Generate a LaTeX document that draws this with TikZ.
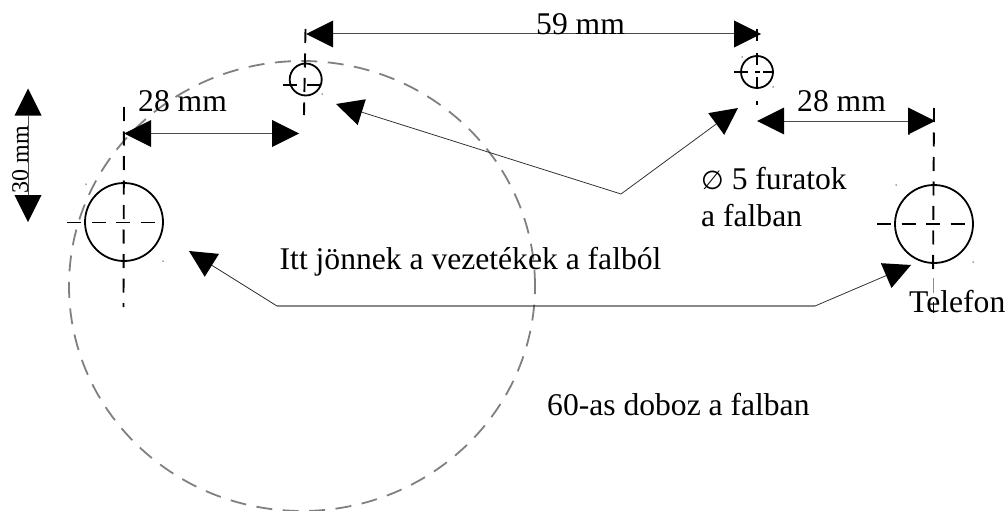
\documentclass[tikz,border=0pt]{standalone}
\usepackage{fontspec}
\setmainfont{Liberation Serif}
\newfontfamily\symbfont{DejaVu Sans}
\usetikzlibrary{arrows.meta,shapes.geometric}
\tikzset{
  dimtip/.tip={Triangle[length=27pt,width=27pt,sep=0pt,color=black,fill=black,line width=0pt]},
  hole/.style={circle,draw=black,line width=1.8pt,inner sep=0pt,fill=none},
  bighole/.style={hole,minimum size=78pt},
  smallhole/.style={hole,minimum size=32pt},
  centre/.style={draw=black,line width=1.9pt,dash pattern=on 14pt off 10.5pt},
  boxoutline/.style={ellipse,draw=black!50,line width=1.8pt,dash pattern=on 16pt off 10.5pt,inner sep=0pt,minimum width=466pt,minimum height=450pt},
  dimline/.style={draw=black!70,line width=1pt,{dimtip}-{dimtip}},
  leader/.style={draw=black!80,line width=.8pt,-{dimtip}},
  label/.style={anchor=base west,inner sep=0pt,font=\fontsize{31.6}{32}\selectfont,text=black},
  speck/.style={fill=black!70,circle,inner sep=0pt,minimum size=1.5pt}
}
\begin{document}
\begin{tikzpicture}[x=1pt,y=-1pt]
\useasboundingbox (0,0) rectangle (1007,511);
% mounting box outline
\node[boxoutline] (box) at (302,286) {};
% holes
\node[bighole] (h1) at (124,222) {};
\node[bighole] (h4) at (934,224) {};
\node[smallhole] (h2) at (305.7,79.5) {};
\node[smallhole] (h3) at (757,72) {};
% centre lines
\coordinate (h1t) at (124,107); \coordinate (h1b) at (123.5,307);
\coordinate (h1l) at (67,222.5); \coordinate (h1r) at (155,222.5);
\draw[centre] (h1t) -- (h1b);
\draw[centre] (h1l) -- (h1r);
\coordinate (h4t) at (934,108); \coordinate (h4b) at (933,278);
\coordinate (h4l) at (877,224); \coordinate (h4r) at (965,224);
\coordinate (h4c) at (933.5,278); \coordinate (h4d) at (933.5,293);
\coordinate (h4e) at (933.5,302); \coordinate (h4f) at (933.5,313);
\draw[centre] (h4t) -- (h4b);
\draw[centre] (h4l) -- (h4r);
\draw[black!45,line width=1.2pt] (h4c) -- (h4d);
\draw[black,line width=1.2pt] (h4e) -- (h4f);
\coordinate (h2t) at (305.5,29); \coordinate (h2b) at (304,115);
\coordinate (h2l) at (283,85); \coordinate (h2r) at (320,85);
\draw[centre,dash pattern=on 14pt off 10.5pt] (h2t) -- (h2b);
\draw[centre,dash pattern=on 14pt off 10pt] (h2l) -- (h2r);
\coordinate (h3t) at (757,29); \coordinate (h3b) at (757,105);
\coordinate (h3l) at (734,72); \coordinate (h3r) at (773,72);
\draw[centre,dash pattern=on 12pt off 12pt] (h3t) -- (h3b);
\draw[centre,dash pattern=on 14pt off 7pt on 5pt off 3pt] (h3l) -- (h3r);
% small specks
\foreach \n/\p in {s1/{86,184},s2/{163,261},s3/{322,94},s4/{742,57},s5/{773,87},s6/{896,185},s7/{973,262}}
  \node[speck] (\n) at (\p) {};
% dimensions
\coordinate (d1a) at (306,34); \coordinate (d1b) at (761,34);
\draw[dimline] (d1a) -- (d1b);
\coordinate (d2a) at (124,133.5); \coordinate (d2b) at (299,133.5);
\draw[dimline] (d2a) -- (d2b);
\coordinate (d3a) at (757,121); \coordinate (d3b) at (935,121);
\coordinate (d3c) at (909,108); \coordinate (d3d) at (909,135);
\draw[black!50,line width=2pt] (d3c) -- (d3d);
\draw[dimline] (d3a) -- (d3b);
\coordinate (d4a) at (28,88.5); \coordinate (d4b) at (28,222);
\draw[dimline] (d4a) -- (d4b);
% leaders
\coordinate (v1) at (621,194);
\coordinate (t1) at (336,104); \coordinate (t2) at (738,108);
\draw[leader] (v1) -- (t1);
\draw[leader] (v1) -- (t2);
\coordinate (v2) at (277,306); \coordinate (v3) at (815,306);
\coordinate (t3) at (189,251); \coordinate (t4) at (911,265);
\draw[leader] (v3) -- (v2) -- (t3);
\draw[leader] (v2) -- (v3) -- (t4);
% labels
\node[label] (l1) at (536,35) {59 mm};
\node[label] (l2) at (138,111) {28 mm};
\node[label] (l3) at (797,111) {28 mm};
\node[label] (l4) at (701,189) {{\symbfont\fontsize{26}{26}\selectfont ∅} 5 furatok};
\node[label] (l5) at (701,226) {a falban};
\node[label] (l6) at (279.5,269) {Itt jönnek a vezetékek a falból};
\node[label] (l7) at (909,312) {Telefon};
\node[label] (l8) at (547,415) {60-as doboz a falban};
\node[anchor=base,inner sep=0pt,rotate=90,font=\fontsize{24}{24}\selectfont] (l9) at (28,160) {30 mm};
\end{tikzpicture}
\end{document}
